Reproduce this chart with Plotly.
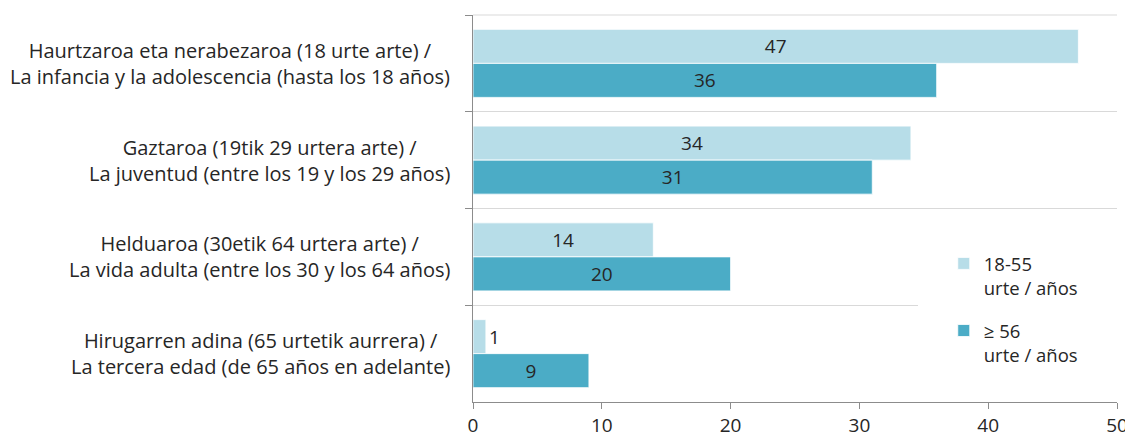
import plotly.graph_objects as go

categories = [
    "Haurtzaroa eta nerabezaroa (18 urte arte) /<br>La infancia y la adolescencia (hasta los 18 años)",
    "Gaztaroa (19tik 29 urtera arte) /<br>La juventud (entre los 19 y los 29 años)",
    "Helduaroa (30etik 64 urtera arte) /<br>La vida adulta (entre los 30 y los 64 años)",
    "Hirugarren adina (65 urtetik aurrera) /<br>La tercera edad (de 65 años en adelante)",
]
series_names = ["18-55<br>urte / años", "≥ 56<br>urte / años"]
values_18_55 = [47, 34, 14, 1]
values_56 = [36, 31, 20, 9]
x_ticks = [0, 10, 20, 30, 40, 50]

FONT = "'Open Sans', sans-serif"
TXT = "#262626"
colors = ["#b7dde8", "#4bacc6"]

def positions(vals):
    return ["outside" if v < 3 else "inside" for v in vals]

fig = go.Figure()
for i, (name, vals) in enumerate(zip(series_names, [values_18_55, values_56])):
    fig.add_trace(go.Bar(
        y=categories, x=vals, orientation="h", name=name,
        legendgroup=f"g{i}",
        marker=dict(color=colors[i], line=dict(color="white", width=0.8)),
        text=[str(v) for v in vals], textposition=positions(vals),
        insidetextanchor="middle", constraintext="none",
        textfont=dict(family=FONT, size=19, color=TXT),
        cliponaxis=False, hoverinfo="skip",
    ))

annotations = [
    dict(x=0, xref="paper", y=c, yref="y", text=c, showarrow=False,
         xanchor="right", yanchor="middle", align="center", xshift=-21,
         font=dict(family=FONT, size=20, color=TXT))
    for c in categories
]

fig.update_layout(
    width=1125, height=431,
    margin=dict(l=465, r=16, t=7, b=37, autoexpand=False),
    paper_bgcolor="white", plot_bgcolor="white",
    barmode="group", bargap=0.297, bargroupgap=0,
    font=dict(family=FONT, size=19, color=TXT),
    showlegend=True,
    legend=dict(x=0.731, y=0.406, xanchor="left", yanchor="top",
                bgcolor="rgba(0,0,0,0)", valign="top",
                tracegroupgap=16, font=dict(family=FONT, size=18.5, color=TXT)),
    annotations=annotations,
    shapes=[
        dict(type="rect", xref="paper", yref="paper", x0=0.691, x1=1.0,
             y0=0.013, y1=0.49, fillcolor="white", line=dict(width=0), layer="above"),
        dict(type="line", xref="paper", yref="paper", x0=0, x1=1, y0=1, y1=1,
             line=dict(color="#d9d9d9", width=1), layer="below"),
    ],
    xaxis=dict(range=[0, 50], tickvals=x_ticks, showgrid=False, zeroline=False,
               automargin=False,
               showline=True, linecolor="#8c8c8c", linewidth=1,
               ticks="outside", ticklen=6, tickcolor="#8c8c8c",
               tickfont=dict(family=FONT, size=19, color=TXT)),
    yaxis=dict(type="category", autorange="reversed", tickson="boundaries",
               automargin=False,
               showticklabels=False, showgrid=True, gridcolor="#d9d9d9", gridwidth=1,
               showline=True, linecolor="#8c8c8c", linewidth=1,
               ticks="outside", ticklen=7, tickcolor="#8c8c8c", zeroline=False),
)

fig.write_html("out.html")
